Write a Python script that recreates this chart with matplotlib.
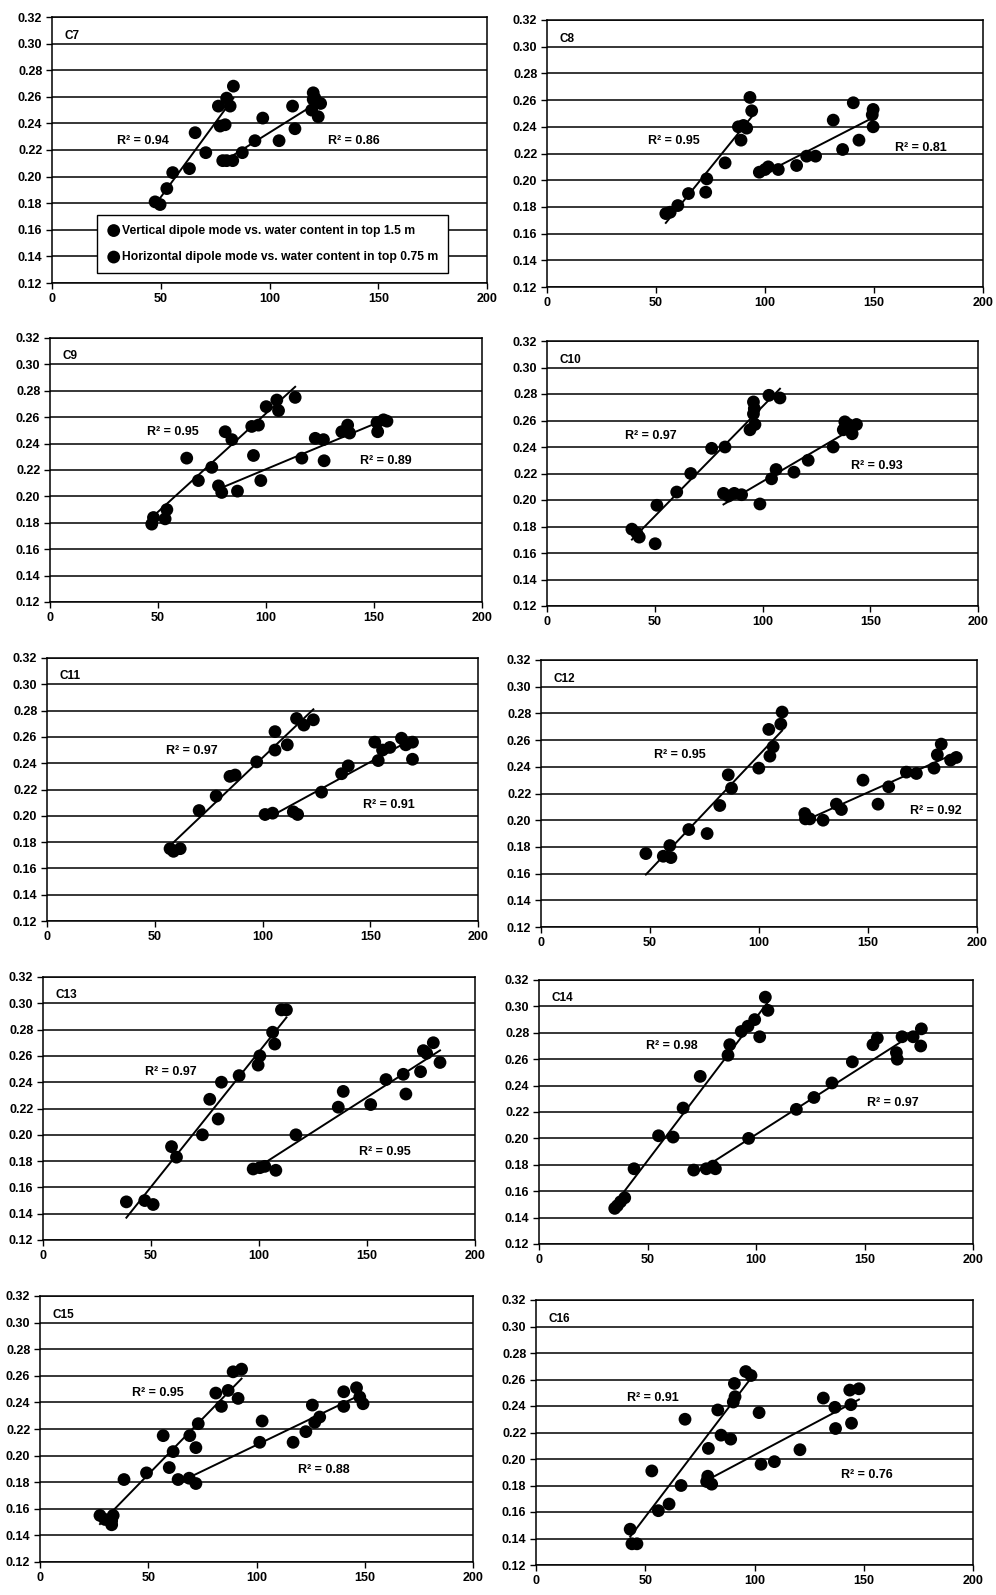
import matplotlib
matplotlib.use("Agg")
import matplotlib.pyplot as plt
import numpy as np

plt.rcParams["font.family"] = ["Liberation Sans", "DejaVu Sans"]
plt.rcParams["font.weight"] = "bold"

# ---------------------------------------------------------------- data
x_ticks = [0, 50, 100, 150, 200]
y_ticks = [0.12, 0.14, 0.16, 0.18, 0.20, 0.22, 0.24, 0.26, 0.28, 0.30, 0.32]

legend_labels = ["Vertical dipole mode vs. water content in top 1.5 m",
                 "Horizontal dipole mode vs. water content in top 0.75 m"]

panel_names = ["C7", "C8", "C9", "C10", "C11", "C12", "C13", "C14", "C15", "C16"]

# vertical dipole (steeper) series and horizontal dipole series per site
c7_vert_x = [47.4, 49.7, 52.8, 55.5, 63.2, 65.8, 70.7, 76.5, 77.3, 79.6, 80.3, 81.9, 83.4]
c7_vert_y = [0.181, 0.179, 0.191, 0.203, 0.206, 0.233, 0.218, 0.253, 0.238, 0.239, 0.259, 0.253, 0.268]
c7_horiz_x = [78.5, 80.3, 83.1, 87.5, 93.3, 96.9, 104.4, 110.6, 111.7, 120.1, 120.1, 119.4, 122.4, 123.5, 120.9]
c7_horiz_y = [0.212, 0.212, 0.212, 0.218, 0.227, 0.244, 0.227, 0.253, 0.236, 0.263, 0.258, 0.250, 0.245, 0.255, 0.259]

c8_vert_x = [54.5, 56.5, 60.0, 64.9, 72.8, 73.3, 81.7, 89.0, 87.8, 90.1, 91.6, 93.1, 93.9]
c8_vert_y = [0.175, 0.176, 0.181, 0.190, 0.191, 0.201, 0.213, 0.230, 0.240, 0.241, 0.239, 0.262, 0.252]
c8_horiz_x = [97.4, 100.0, 101.5, 106.1, 114.5, 119.1, 123.2, 131.3, 135.6, 140.5, 143.1, 149.6, 149.6, 149.2]
c8_horiz_y = [0.206, 0.208, 0.210, 0.208, 0.211, 0.218, 0.218, 0.245, 0.223, 0.258, 0.230, 0.253, 0.240, 0.249]

c9_vert_x = [47.1, 47.9, 53.3, 54.1, 63.3, 68.7, 74.9, 81.1, 84.2, 93.4, 96.5, 100.1, 105.0, 105.8, 113.5]
c9_vert_y = [0.179, 0.184, 0.183, 0.190, 0.229, 0.212, 0.222, 0.249, 0.243, 0.253, 0.254, 0.268, 0.273, 0.265, 0.275]
c9_horiz_x = [78.0, 79.5, 86.8, 94.2, 97.6, 116.6, 122.8, 126.6, 126.9, 135.1, 137.8, 138.7, 151.4, 151.7, 154.4, 156.0]
c9_horiz_y = [0.208, 0.203, 0.204, 0.231, 0.212, 0.229, 0.244, 0.243, 0.227, 0.249, 0.254, 0.248, 0.256, 0.249, 0.258, 0.257]

c10_vert_x = [39.4, 41.7, 42.8, 50.2, 51.0, 60.2, 66.7, 76.4, 82.6, 94.2, 96.5, 95.8, 96.2, 95.8, 103.0, 108.1]
c10_vert_y = [0.178, 0.175, 0.172, 0.167, 0.196, 0.206, 0.220, 0.239, 0.240, 0.253, 0.257, 0.274, 0.269, 0.265, 0.279, 0.277]
c10_horiz_x = [81.9, 84.2, 86.9, 90.3, 98.8, 104.2, 106.3, 114.6, 121.2, 132.8, 137.5, 138.2, 141.6, 143.6, 139.8]
c10_horiz_y = [0.205, 0.203, 0.205, 0.204, 0.197, 0.216, 0.223, 0.221, 0.230, 0.240, 0.253, 0.259, 0.250, 0.257, 0.257]

c11_vert_x = [57.1, 58.7, 61.8, 70.6, 78.5, 84.9, 87.3, 97.3, 105.8, 105.8, 111.5, 115.8, 119.2, 123.6]
c11_vert_y = [0.175, 0.173, 0.175, 0.204, 0.215, 0.230, 0.231, 0.241, 0.264, 0.250, 0.254, 0.274, 0.269, 0.273]
c11_horiz_x = [101.2, 104.7, 114.3, 116.3, 127.4, 136.7, 139.8, 152.1, 153.7, 155.7, 159.1, 164.5, 166.5, 169.6, 169.6]
c11_horiz_y = [0.201, 0.202, 0.203, 0.201, 0.218, 0.232, 0.238, 0.256, 0.242, 0.250, 0.252, 0.259, 0.254, 0.256, 0.243]

c12_vert_x = [48.1, 56.1, 59.1, 59.6, 67.8, 76.2, 82.0, 85.9, 87.4, 99.9, 104.5, 105.0, 106.5, 110.0, 110.6]
c12_vert_y = [0.175, 0.173, 0.181, 0.172, 0.193, 0.190, 0.211, 0.234, 0.224, 0.239, 0.268, 0.248, 0.255, 0.272, 0.281]
c12_horiz_x = [121.0, 121.3, 123.3, 129.4, 135.5, 137.8, 147.7, 154.6, 159.5, 167.6, 172.2, 180.3, 181.8, 183.6, 187.9, 190.5]
c12_horiz_y = [0.205, 0.201, 0.201, 0.200, 0.212, 0.208, 0.230, 0.212, 0.225, 0.236, 0.235, 0.239, 0.249, 0.257, 0.245, 0.247]

c13_vert_x = [38.6, 47.1, 51.0, 59.5, 61.8, 73.8, 77.2, 81.1, 82.6, 90.8, 99.6, 100.4, 106.3, 107.3, 110.4, 112.7]
c13_vert_y = [0.149, 0.150, 0.147, 0.191, 0.183, 0.200, 0.227, 0.212, 0.240, 0.245, 0.253, 0.260, 0.278, 0.269, 0.295, 0.295]
c13_horiz_x = [97.3, 100.4, 102.7, 107.8, 117.1, 136.7, 139.0, 151.7, 158.8, 166.8, 168.0, 174.8, 176.1, 177.6, 180.7, 183.8]
c13_horiz_y = [0.174, 0.175, 0.176, 0.173, 0.200, 0.221, 0.233, 0.223, 0.242, 0.246, 0.231, 0.248, 0.264, 0.262, 0.270, 0.255]

c14_vert_x = [34.9, 36.1, 37.6, 39.5, 43.8, 55.1, 61.8, 66.4, 74.3, 87.1, 87.9, 93.2, 96.3, 99.4, 101.7, 104.3, 105.5]
c14_vert_y = [0.147, 0.149, 0.152, 0.155, 0.177, 0.202, 0.201, 0.223, 0.247, 0.263, 0.271, 0.281, 0.285, 0.290, 0.277, 0.307, 0.297]
c14_horiz_x = [71.3, 77.1, 80.2, 81.3, 96.6, 118.6, 126.7, 135.0, 144.4, 153.9, 155.9, 164.7, 165.1, 167.3, 172.4, 176.2, 175.9]
c14_horiz_y = [0.176, 0.177, 0.179, 0.177, 0.200, 0.222, 0.231, 0.242, 0.258, 0.271, 0.276, 0.265, 0.260, 0.277, 0.277, 0.283, 0.270]

c15_vert_x = [27.7, 30.0, 33.1, 33.1, 33.8, 38.8, 49.2, 56.9, 61.5, 59.7, 69.2, 72.0, 73.1, 81.2, 83.8, 86.9, 89.2, 91.5, 93.1]
c15_vert_y = [0.155, 0.152, 0.151, 0.148, 0.155, 0.182, 0.187, 0.215, 0.203, 0.191, 0.215, 0.206, 0.224, 0.247, 0.237, 0.249, 0.263, 0.243, 0.265]
c15_horiz_x = [63.8, 68.9, 72.0, 101.5, 102.6, 116.9, 122.8, 125.8, 126.9, 129.2, 140.3, 140.3, 146.2, 149.2, 147.7]
c15_horiz_y = [0.182, 0.183, 0.179, 0.210, 0.226, 0.210, 0.218, 0.238, 0.225, 0.229, 0.248, 0.237, 0.251, 0.239, 0.244]

c16_vert_x = [43.1, 43.9, 46.2, 53.0, 56.0, 60.9, 66.4, 68.2, 78.9, 83.2, 84.7, 89.1, 90.3, 91.1, 90.8, 96.0, 98.4]
c16_vert_y = [0.147, 0.136, 0.136, 0.191, 0.161, 0.166, 0.180, 0.230, 0.208, 0.237, 0.218, 0.215, 0.243, 0.247, 0.257, 0.266, 0.263]
c16_horiz_x = [78.6, 78.1, 80.4, 102.1, 103.0, 109.1, 120.8, 131.5, 136.8, 137.1, 143.6, 144.1, 144.4, 147.8]
c16_horiz_y = [0.187, 0.183, 0.181, 0.235, 0.196, 0.198, 0.207, 0.246, 0.239, 0.223, 0.252, 0.241, 0.227, 0.253]

r2_vert = ["0.94", "0.95", "0.95", "0.97", "0.97", "0.95", "0.97", "0.98", "0.95", "0.91"]
r2_horiz = ["0.86", "0.81", "0.89", "0.93", "0.91", "0.92", "0.95", "0.97", "0.88", "0.76"]

series = [
    (c7_vert_x, c7_vert_y, c7_horiz_x, c7_horiz_y),
    (c8_vert_x, c8_vert_y, c8_horiz_x, c8_horiz_y),
    (c9_vert_x, c9_vert_y, c9_horiz_x, c9_horiz_y),
    (c10_vert_x, c10_vert_y, c10_horiz_x, c10_horiz_y),
    (c11_vert_x, c11_vert_y, c11_horiz_x, c11_horiz_y),
    (c12_vert_x, c12_vert_y, c12_horiz_x, c12_horiz_y),
    (c13_vert_x, c13_vert_y, c13_horiz_x, c13_horiz_y),
    (c14_vert_x, c14_vert_y, c14_horiz_x, c14_horiz_y),
    (c15_vert_x, c15_vert_y, c15_horiz_x, c15_horiz_y),
    (c16_vert_x, c16_vert_y, c16_horiz_x, c16_horiz_y),
]

# ---------------------------------------------------------------- layout
W, H = 996, 1595
# plot-area boxes in pixels: left, top, right, bottom
boxes = [
    (52, 17, 487, 283), (547, 20, 983, 287),
    (50, 338, 482, 602), (547, 341, 978, 606),
    (47, 658, 478, 921), (541, 660, 977, 927),
    (43, 977, 475, 1240), (539, 980, 973, 1244),
    (40, 1296, 473, 1562), (536, 1300, 973, 1565),
]
# R-squared annotation anchors (data coordinates)
r2_vert_pos = [(29.8, 0.227), (46.3, 0.229), (44.8, 0.249), (36.0, 0.248), (55.3, 0.249),
               (51.9, 0.249), (47.1, 0.248), (49.5, 0.270), (42.3, 0.247), (41.6, 0.246)]
r2_horiz_pos = [(127.0, 0.227), (159.5, 0.224), (143.3, 0.227), (141.0, 0.226), (146.7, 0.208),
                (169.1, 0.207), (146.4, 0.187), (151.3, 0.227), (119.2, 0.189), (139.8, 0.188)]

FS = 9
fig = plt.figure(figsize=(W / 100, H / 100), dpi=100)
fig.patch.set_facecolor("white")

for i, (l, t, r, b) in enumerate(boxes):
    ax = fig.add_axes([l / W, 1 - b / H, (r - l) / W, (b - t) / H])
    ax.set_xlim(0, 200)
    ax.set_ylim(0.12, 0.32)
    ax.set_xticks(x_ticks)
    ax.set_yticks(y_ticks)
    ax.set_xticklabels([str(v) for v in x_ticks], fontsize=FS, fontweight="bold")
    ax.set_yticklabels([f"{v:.2f}" for v in y_ticks], fontsize=FS, fontweight="bold")
    ax.tick_params(direction="out", length=4, width=1.0, pad=3, colors="black")
    ax.yaxis.grid(True, color="black", linewidth=1.1)
    ax.set_axisbelow(True)
    for s in ax.spines.values():
        s.set_color("black")
        s.set_linewidth(1.1)

    vx, vy, hx, hy = series[i]
    h1 = ax.scatter(vx, vy, s=85, color="black", edgecolors="none", zorder=3,
                    label=legend_labels[0])
    h2 = ax.scatter(hx, hy, s=85, color="black", edgecolors="none", zorder=3,
                    label=legend_labels[1])

    # linear trend lines over each series' range
    for xs, ys in ((vx, vy), (hx, hy)):
        xs = np.asarray(xs)
        ys = np.asarray(ys)
        coef = np.polyfit(xs, ys, 1)
        xe = np.array([xs.min(), xs.max()])
        ax.plot(xe, np.polyval(coef, xe), color="black", linewidth=1.4, zorder=4)

    ax.text(0.028, 0.93, panel_names[i], transform=ax.transAxes, fontsize=FS - 0.5,
            fontweight="bold", va="center", ha="left")
    ax.text(*r2_vert_pos[i], f"R² = {r2_vert[i]}", fontsize=FS, fontweight="bold",
            va="center", ha="left", zorder=5)
    ax.text(*r2_horiz_pos[i], f"R² = {r2_horiz[i]}", fontsize=FS, fontweight="bold",
            va="center", ha="left", zorder=5)

    if i == 0:
        leg = ax.legend(handles=[h1, h2], loc="lower left",
                        bbox_to_anchor=(0.103, 0.038), fontsize=8.7,
                        frameon=True, fancybox=False, edgecolor="black",
                        framealpha=1.0, labelspacing=1.2, borderpad=0.8,
                        handletextpad=0.1, handlelength=1.2, scatterpoints=1,
                        borderaxespad=0.0)
        leg.get_frame().set_linewidth(1.0)
        leg.set_zorder(6)

fig.savefig("out.png", dpi=100, facecolor="white")
